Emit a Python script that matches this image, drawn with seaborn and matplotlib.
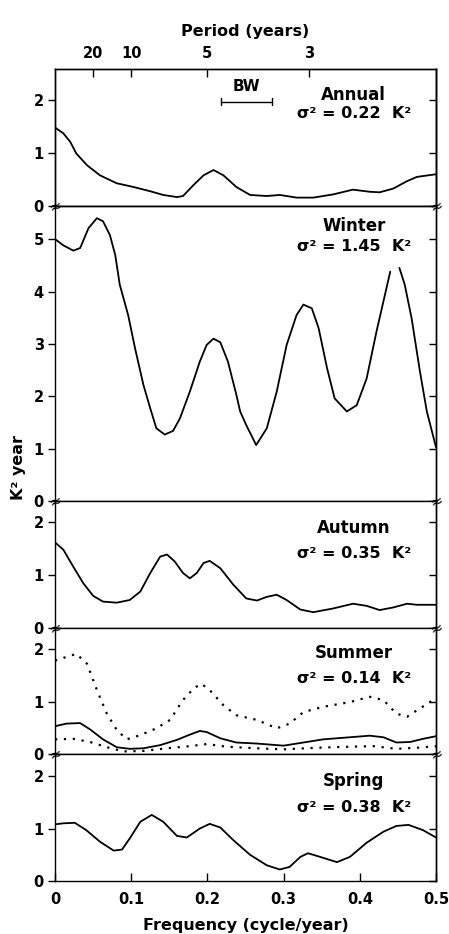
import numpy as np
import matplotlib
matplotlib.use("Agg")
import matplotlib.pyplot as plt
import pandas as pd
import seaborn as sns

# --- data (frequency in cycle/year, power in K^2 year) ---
annual_f = [0, 0.011, 0.020, 0.028, 0.042, 0.059, 0.081, 0.103, 0.125, 0.142, 0.160, 0.168,
            0.182, 0.195, 0.208, 0.221, 0.238, 0.256, 0.278, 0.295, 0.317, 0.339, 0.365,
            0.391, 0.413, 0.426, 0.444, 0.462, 0.475, 0.5]
annual_p = [1.48, 1.37, 1.21, 0.99, 0.77, 0.58, 0.43, 0.36, 0.28, 0.21, 0.17, 0.19,
            0.40, 0.58, 0.68, 0.58, 0.36, 0.21, 0.19, 0.21, 0.16, 0.16, 0.22,
            0.31, 0.27, 0.26, 0.33, 0.47, 0.55, 0.60]

winter_f = [0, 0.011, 0.024, 0.033, 0.044, 0.055, 0.063, 0.072, 0.079, 0.085, 0.096, 0.105,
            0.116, 0.125, 0.133, 0.144, 0.155, 0.164, 0.177, 0.190, 0.199, 0.208, 0.217,
            0.227, 0.238, 0.243, 0.251, 0.264, 0.278, 0.291, 0.304, 0.317, 0.326, 0.337,
            0.346, 0.357, 0.367, 0.383, 0.396, 0.409, 0.422, 0.431, 0.440,
            0.452, 0.459, 0.468, 0.479, 0.488, 0.5]
winter_p = [5.0, 4.88, 4.78, 4.83, 5.21, 5.4, 5.34, 5.08, 4.70, 4.13, 3.55, 2.92,
            2.22, 1.77, 1.39, 1.27, 1.34, 1.58, 2.09, 2.66, 2.98, 3.10, 3.03,
            2.66, 2.03, 1.71, 1.45, 1.07, 1.39, 2.09, 2.98, 3.55, 3.75, 3.68,
            3.30, 2.54, 1.96, 1.71, 1.83, 2.34, 3.24, 3.81, 4.38,
            4.45, 4.13, 3.49, 2.47, 1.71, 1.03]
winter_seg = [0] * 43 + [1] * 6

autumn_f = [0, 0.011, 0.024, 0.037, 0.050, 0.063, 0.081, 0.098, 0.112, 0.125, 0.138, 0.147,
            0.157, 0.168, 0.177, 0.186, 0.195, 0.203, 0.217, 0.234, 0.251, 0.265, 0.278,
            0.291, 0.304, 0.322, 0.339, 0.365, 0.391, 0.409, 0.426, 0.444, 0.462, 0.475,
            0.5]
autumn_p = [1.62, 1.48, 1.16, 0.85, 0.61, 0.50, 0.48, 0.53, 0.69, 1.04, 1.35, 1.39,
            1.26, 1.04, 0.94, 1.04, 1.23, 1.27, 1.13, 0.82, 0.56, 0.52, 0.59,
            0.63, 0.53, 0.35, 0.30, 0.37, 0.46, 0.42, 0.34, 0.39, 0.46, 0.44,
            0.44]

summer_f = [0, 0.015, 0.033, 0.046, 0.063, 0.081, 0.098, 0.116, 0.138, 0.160, 0.177, 0.190,
            0.199, 0.217, 0.238, 0.265, 0.300, 0.326, 0.352, 0.387, 0.413, 0.431, 0.448,
            0.466, 0.483, 0.5]
summer_p = [0.53, 0.58, 0.59, 0.47, 0.28, 0.13, 0.10, 0.11, 0.17, 0.27, 0.37, 0.44,
            0.42, 0.30, 0.22, 0.20, 0.16, 0.22, 0.28, 0.32, 0.35, 0.32, 0.22,
            0.23, 0.29, 0.34]
summer_hi_f = [0, 0.015, 0.028, 0.042, 0.055, 0.068, 0.081, 0.094, 0.112, 0.133, 0.151,
               0.168, 0.182, 0.192, 0.203, 0.221, 0.238, 0.265, 0.291, 0.308, 0.326,
               0.352, 0.387, 0.413, 0.431, 0.448, 0.462, 0.479, 0.5]
summer_hi_p = [1.78, 1.85, 1.91, 1.72, 1.22, 0.77, 0.46, 0.28, 0.36, 0.49, 0.65,
               1.03, 1.25, 1.34, 1.22, 0.93, 0.74, 0.65, 0.49, 0.58, 0.80,
               0.90, 0.99, 1.09, 1.03, 0.77, 0.71, 0.87, 1.06]
summer_lo_f = [0, 0.024, 0.046, 0.068, 0.090, 0.116, 0.147, 0.177, 0.199, 0.225, 0.265,
               0.300, 0.343, 0.387, 0.418, 0.448, 0.475, 0.5]
summer_lo_p = [0.28, 0.29, 0.23, 0.13, 0.05, 0.06, 0.11, 0.15, 0.19, 0.14, 0.11,
               0.09, 0.12, 0.14, 0.15, 0.10, 0.12, 0.15]

spring_f = [0, 0.011, 0.026, 0.041, 0.059, 0.077, 0.088, 0.098, 0.112, 0.127, 0.142, 0.160,
            0.173, 0.190, 0.203, 0.217, 0.234, 0.256, 0.278, 0.295, 0.308, 0.322, 0.332,
            0.348, 0.370, 0.387, 0.409, 0.431, 0.448, 0.464, 0.483, 0.5]
spring_p = [1.08, 1.10, 1.11, 0.97, 0.75, 0.58, 0.60, 0.81, 1.13, 1.26, 1.13, 0.86,
            0.83, 1.0, 1.09, 1.02, 0.78, 0.50, 0.30, 0.22, 0.27, 0.46, 0.53,
            0.46, 0.36, 0.46, 0.73, 0.94, 1.05, 1.07, 0.97, 0.83]

seasons = ["Annual", "Winter", "Autumn", "Summer", "Spring"]
variances = ["0.22", "1.45", "0.35", "0.14", "0.38"]
ylims = [2.58, 5.63, 2.4, 2.4, 2.42]
yticks = [[0, 1, 2], [0, 1, 2, 3, 4, 5], [0, 1, 2], [0, 1, 2], [0, 1, 2]]
periods = [20, 10, 5, 3]
freq_ticks = [0, 0.1, 0.2, 0.3, 0.4, 0.5]
freq_labels = ["0", "0.1", "0.2", "0.3", "0.4", "0.5"]
bw_band = [0.2175, 0.2843]

sns.set_style("ticks")
plt.rcParams["font.family"] = ["DejaVu Sans"]
plt.rcParams["font.weight"] = "bold"
plt.rcParams["axes.labelweight"] = "bold"
plt.rcParams["axes.linewidth"] = 1.0
for key in ("text.color", "axes.labelcolor", "xtick.color", "ytick.color", "axes.edgecolor"):
    plt.rcParams[key] = "black"

fig, axes = plt.subplots(5, 1, figsize=(4.49, 9.34), dpi=100, sharex=True,
                         gridspec_kw=dict(height_ratios=[137, 295, 127, 126, 127]))
fig.subplots_adjust(left=0.1225, right=0.971, top=0.926, bottom=0.0567, hspace=0)

lw = 1.3
dots = (0, (1, 3))

sns.lineplot(data=pd.DataFrame({"f": annual_f, "p": annual_p}), x="f", y="p",
             color="k", lw=lw, ax=axes[0])
sns.lineplot(data=pd.DataFrame({"f": winter_f, "p": winter_p, "seg": winter_seg}),
             x="f", y="p", units="seg", estimator=None, color="k", lw=lw, ax=axes[1])
sns.lineplot(data=pd.DataFrame({"f": autumn_f, "p": autumn_p}), x="f", y="p",
             color="k", lw=lw, ax=axes[2])
sns.lineplot(data=pd.DataFrame({"f": summer_f, "p": summer_p}), x="f", y="p",
             color="k", lw=lw, ax=axes[3])
sns.lineplot(data=pd.DataFrame({"f": summer_hi_f, "p": summer_hi_p}), x="f", y="p",
             color="k", lw=1.6, linestyle=dots, ax=axes[3])
sns.lineplot(data=pd.DataFrame({"f": summer_lo_f, "p": summer_lo_p}), x="f", y="p",
             color="k", lw=1.6, linestyle=dots, ax=axes[3])
sns.lineplot(data=pd.DataFrame({"f": spring_f, "p": spring_p}), x="f", y="p",
             color="k", lw=lw, ax=axes[4])

label_pos = [(2.09, 1.75), (5.25, 4.85), (1.9, 1.41), (1.93, 1.43), (1.91, 1.41)]
for i, ax in enumerate(axes):
    ax.set_xlim(0, 0.5)
    ax.set_ylim(0, ylims[i])
    ax.set_yticks(yticks[i])
    ax.set_xlabel("")
    ax.set_ylabel("")
    ax.tick_params(axis="y", direction="out", length=5, width=1, labelsize=10.5, pad=3)
    ax.tick_params(axis="x", bottom=False, labelbottom=False)
    for s in ax.spines.values():
        s.set_visible(True)
        s.set_color("k")
    right = ax.secondary_yaxis("right")
    right.set_yticks(yticks[i])
    right.tick_params(direction="in", length=5, width=1, labelright=False)
    ya, yb = label_pos[i]
    ax.text(0.392, ya, seasons[i], ha="center", va="center", fontsize=12)
    ax.text(0.393, yb, f"σ² = {variances[i]}  K²", ha="center", va="center", fontsize=11.5)
    if i > 0:
        for xb in (0, 0.5):
            ax.text(xb, ylims[i], "≈", ha="center", va="center", fontsize=11,
                    fontweight="normal", rotation=20, clip_on=False, zorder=5)

# bottom frequency axis
axes[4].set_xticks(freq_ticks)
axes[4].set_xticklabels(freq_labels)
axes[4].tick_params(axis="x", bottom=True, labelbottom=True, direction="in",
                    length=6, width=1, labelsize=10.5, pad=8)
axes[4].set_xlabel("Frequency (cycle/year)", fontsize=11.5, labelpad=8)

# top period axis
top = axes[0].twiny()
top.set_xlim(0, 0.5)
top.set_xticks(1 / np.array(periods))
top.set_xticklabels([str(p) for p in periods])
top.tick_params(axis="x", direction="in", length=6, width=1, labelsize=10.5, pad=6)
top.set_xlabel("Period (years)", fontsize=11.5, labelpad=7)

# bandwidth marker
bw_y = 1.97
axes[0].plot(bw_band, [bw_y, bw_y], color="k", lw=1)
for xb in bw_band:
    axes[0].plot([xb, xb], [bw_y - 0.06, bw_y + 0.06], color="k", lw=1)
axes[0].text(np.mean(bw_band), bw_y + 0.28, "BW", ha="center", va="center", fontsize=11)

fig.text(0.042, 0.5, "K² year", rotation=90, ha="center", va="center", fontsize=11.5)

fig.savefig("out.png", dpi=100)
